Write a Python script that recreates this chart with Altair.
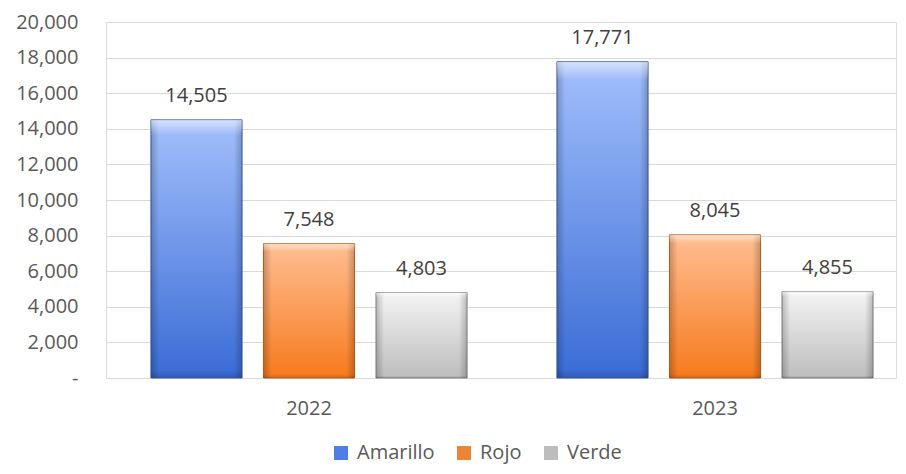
import altair as alt
import pandas as pd

years = ["2022", "2023"]
series = ["Amarillo", "Rojo", "Verde"]
values_2022 = [14505, 7548, 4803]
values_2023 = [17771, 8045, 4855]
y_ticks = list(range(0, 20001, 2000))

rows = []
for yr, vals in zip(years, [values_2022, values_2023]):
    for s, v in zip(series, vals):
        rows.append({"year": yr, "serie": s, "value": v})
df = pd.DataFrame(rows)

FONT = "Open Sans"
FS = 20
flat = ["#4F7FE0", "#EE8438", "#BDBDBD"]
grad_top = ["#A2BFFB", "#FFBE92", "#F4F4F4"]
grad_bot = ["#3A6CD6", "#F67A1C", "#BDBDBD"]
strokes = ["#4063B0", "#C8651E", "#8E8E8E"]


def vgrad(top, bot):
    return alt.LinearGradient(
        gradient="linear", x1=0, x2=0, y1=0, y2=1,
        stops=[alt.GradientStop(color=top, offset=0),
               alt.GradientStop(color=bot, offset=1)])


edge_shade = alt.LinearGradient(
    gradient="linear", x1=0, x2=1, y1=0, y2=0,
    stops=[alt.GradientStop(color="rgba(0,0,0,0.22)", offset=0),
           alt.GradientStop(color="rgba(0,0,0,0)", offset=0.09),
           alt.GradientStop(color="rgba(0,0,0,0)", offset=0.91),
           alt.GradientStop(color="rgba(0,0,0,0.22)", offset=1)])

top_shine = alt.LinearGradient(
    gradient="linear", x1=0, x2=0, y1=0, y2=1,
    stops=[alt.GradientStop(color="rgba(255,255,255,0.55)", offset=0),
           alt.GradientStop(color="rgba(255,255,255,0)", offset=0.06),
           alt.GradientStop(color="rgba(0,0,0,0)", offset=0.97),
           alt.GradientStop(color="rgba(0,0,0,0.15)", offset=1)])

base = alt.Chart(df).encode(
    x=alt.X("year:N", sort=years,
            scale=alt.Scale(domain=years, paddingInner=0.15, paddingOuter=0.0479, align=0.783),
            axis=alt.Axis(title=None, labelAngle=0, ticks=False, domain=False,
                          labelFontSize=FS, labelColor="#595959", labelFont=FONT,
                          labelPadding=20)),
    xOffset=alt.XOffset("serie:N", scale=alt.Scale(domain=series, paddingInner=0.19, paddingOuter=0.1286)),
    y=alt.Y("value:Q", scale=alt.Scale(domain=[0, 20000], nice=False),
            axis=alt.Axis(title=None, values=y_ticks, ticks=False, domain=False,
                          labelExpr="datum.value == 0 ? '-\u00a0\u00a0' : format(datum.value, ',')",
                          labelFontSize=FS, labelColor="#595959", labelFont=FONT,
                          labelPadding=28, gridColor="#D9D9D9", gridWidth=1.2)),
)

legend_bars = base.mark_bar().encode(
    color=alt.Color("serie:N", scale=alt.Scale(domain=series, range=flat),
                    legend=alt.Legend(title=None, orient="none", direction="horizontal",
                                      legendX=225, legendY=421,
                                      symbolType="square", symbolSize=196, symbolStrokeWidth=1,
                                      labelFontSize=FS, labelColor="#595959", labelFont=FONT,
                                      columnPadding=19, labelOffset=6))
)

layers = [legend_bars]
for i, s in enumerate(series):
    sub = base.transform_filter(alt.datum.serie == s)
    layers.append(sub.mark_bar(fill=vgrad(grad_top[i], grad_bot[i]), stroke=strokes[i], strokeWidth=1))
    layers.append(sub.mark_bar(fill=edge_shade))
    layers.append(sub.mark_bar(fill=top_shine))

labels = base.mark_text(baseline="alphabetic", dy=-18, fontSize=FS, color="#404040", font=FONT).encode(
    text=alt.Text("value:Q", format=",")
)
layers.append(labels)

chart = alt.layer(*layers).properties(
    width=790, height=356,
    autosize=alt.AutoSizeParams(type="none"),
    padding={"left": 98, "top": 14, "right": 2, "bottom": 88},
).configure_view(strokeWidth=0).configure(background="white")

chart.save("out.html", embed_options={"renderer": "svg", "actions": False})
